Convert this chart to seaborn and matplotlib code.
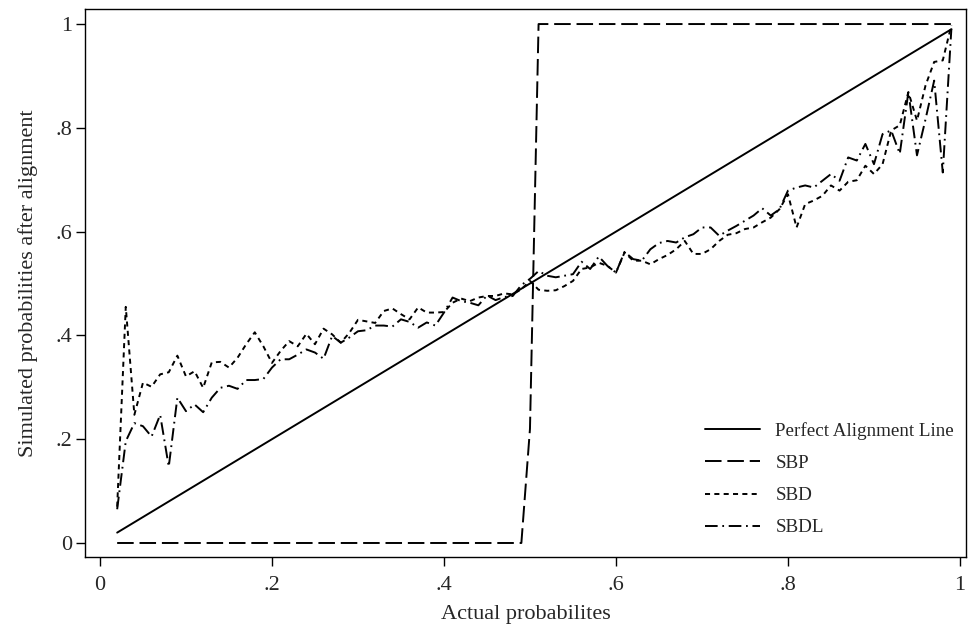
#################################################################################################################################
#   import python libraries
#################################################################################################################################
import numpy as np
import pandas as pd
import matplotlib
matplotlib.use("Agg")
import matplotlib.pyplot as plt
import seaborn as sns

#################################################################################################################################
#   data
#################################################################################################################################
actual = [0.02, 0.03, 0.04, 0.05, 0.06, 0.07, 0.08, 0.09, 0.10, 0.11,
          0.12, 0.13, 0.14, 0.15, 0.16, 0.17, 0.18, 0.19, 0.20, 0.21,
          0.22, 0.23, 0.24, 0.25, 0.26, 0.27, 0.28, 0.29, 0.30, 0.31,
          0.32, 0.33, 0.34, 0.35, 0.36, 0.37, 0.38, 0.39, 0.40, 0.41,
          0.42, 0.43, 0.44, 0.45, 0.46, 0.47, 0.48, 0.49, 0.50, 0.51,
          0.52, 0.53, 0.54, 0.55, 0.56, 0.57, 0.58, 0.59, 0.60, 0.61,
          0.62, 0.63, 0.64, 0.65, 0.66, 0.67, 0.68, 0.69, 0.70, 0.71,
          0.72, 0.73, 0.74, 0.75, 0.76, 0.77, 0.78, 0.79, 0.80, 0.81,
          0.82, 0.83, 0.84, 0.85, 0.86, 0.87, 0.88, 0.89, 0.90, 0.91,
          0.92, 0.93, 0.94, 0.95, 0.96, 0.97, 0.98, 0.99]

perfect_x = [0.02, 0.99]
perfect_y = [0.02, 0.99]

sbp = [0.0] * 48 + [0.22] + [1.0] * 49

sbd = [0.070, 0.455, 0.247, 0.309, 0.301, 0.325, 0.329, 0.361, 0.321, 0.331,
       0.299, 0.348, 0.349, 0.338, 0.357, 0.383, 0.406, 0.379, 0.347, 0.370,
       0.389, 0.379, 0.403, 0.383, 0.413, 0.402, 0.386, 0.405, 0.430, 0.427,
       0.424, 0.447, 0.452, 0.441, 0.431, 0.454, 0.444, 0.444, 0.445, 0.463,
       0.471, 0.466, 0.473, 0.476, 0.476, 0.481, 0.479, 0.489, 0.505, 0.488,
       0.486, 0.487, 0.495, 0.505, 0.528, 0.531, 0.540, 0.534, 0.521, 0.560,
       0.544, 0.544, 0.537, 0.547, 0.555, 0.566, 0.582, 0.557, 0.557, 0.566,
       0.582, 0.594, 0.597, 0.605, 0.608, 0.618, 0.627, 0.643, 0.672, 0.608,
       0.653, 0.660, 0.669, 0.689, 0.679, 0.696, 0.699, 0.727, 0.711, 0.730,
       0.795, 0.805, 0.869, 0.814, 0.882, 0.927, 0.930, 0.998]

sbdl = [0.065, 0.196, 0.231, 0.225, 0.205, 0.247, 0.147, 0.280, 0.254, 0.267,
        0.252, 0.280, 0.299, 0.303, 0.297, 0.314, 0.314, 0.316, 0.338, 0.354,
        0.354, 0.363, 0.373, 0.367, 0.355, 0.399, 0.386, 0.396, 0.408, 0.410,
        0.419, 0.419, 0.417, 0.431, 0.426, 0.415, 0.425, 0.419, 0.444, 0.473,
        0.466, 0.463, 0.458, 0.477, 0.468, 0.474, 0.476, 0.497, 0.509, 0.524,
        0.515, 0.512, 0.515, 0.518, 0.542, 0.528, 0.552, 0.534, 0.521, 0.561,
        0.547, 0.544, 0.566, 0.578, 0.582, 0.579, 0.589, 0.595, 0.608, 0.608,
        0.592, 0.602, 0.611, 0.621, 0.631, 0.645, 0.631, 0.643, 0.679, 0.685,
        0.689, 0.685, 0.698, 0.711, 0.698, 0.743, 0.737, 0.769, 0.730, 0.788,
        0.795, 0.750, 0.869, 0.747, 0.817, 0.891, 0.714, 0.991]

tick_vals = [0, 0.2, 0.4, 0.6, 0.8, 1]
tick_labels = ["0", ".2", ".4", ".6", ".8", "1"]


#################################################################################################################################
#  function name : alignment_plot
#    Description : simulated vs actual probabilities, stata look
#################################################################################################################################
def alignment_plot():

    sns.set_theme(style="white")
    plt.rcParams["font.family"] = ["Liberation Serif", "DejaVu Serif"]

    fig = plt.figure(figsize=(9.69, 6.35), dpi=100)
    ax = fig.add_axes([85 / 969, 1 - 557 / 635, 881 / 969, (557 - 9) / 635])

    df = pd.DataFrame({"Actual": actual, "SBP": sbp, "SBD": sbd, "SBDL": sbdl})

    lw = 1.4
    sns.lineplot(x=perfect_x, y=perfect_y, ax=ax, color="black", lw=lw,
                 linestyle="-", label="Perfect Alignment Line")
    sns.lineplot(data=df, x="Actual", y="SBP", ax=ax, color="black", lw=lw,
                 linestyle=(0, (8.5, 3)), label="SBP")
    sns.lineplot(data=df, x="Actual", y="SBD", ax=ax, color="black", lw=lw,
                 linestyle=(0, (2.6, 2.2)), label="SBD")
    sns.lineplot(data=df, x="Actual", y="SBDL", ax=ax, color="black", lw=lw,
                 linestyle=(0, (6.5, 2.4, 0.9, 2.4)), label="SBDL")

    ax.set_xlim(-0.0174, 1.007)
    ax.set_ylim(-0.027, 1.029)
    ax.set_xticks(tick_vals)
    ax.set_xticklabels(tick_labels)
    ax.set_yticks(tick_vals)
    ax.set_yticklabels(tick_labels)
    ax.tick_params(axis="both", direction="out", length=6.5, width=1, color="black",
                   labelsize=16, bottom=True, left=True)
    ax.tick_params(axis="x", pad=7.5)
    ax.tick_params(axis="y", pad=3)

    for s in ax.spines.values():
        s.set_color("black")
        s.set_linewidth(1)

    ax.set_xlabel("Actual probabilites", fontsize=16, labelpad=7)
    ax.set_ylabel("Simulated probabilities after alignment", fontsize=16, labelpad=12)

    ax.legend(loc="upper left", bbox_to_anchor=(705 / 969, 1 - 422 / 635),
              bbox_transform=fig.transFigure, frameon=False, fontsize=13.7,
              handlelength=2.9, handletextpad=0.8, labelspacing=0.78, borderpad=0,
              borderaxespad=0)

    fig.savefig("out.png", dpi=100)


def main():
    alignment_plot()


if __name__ == "__main__":
    main()
